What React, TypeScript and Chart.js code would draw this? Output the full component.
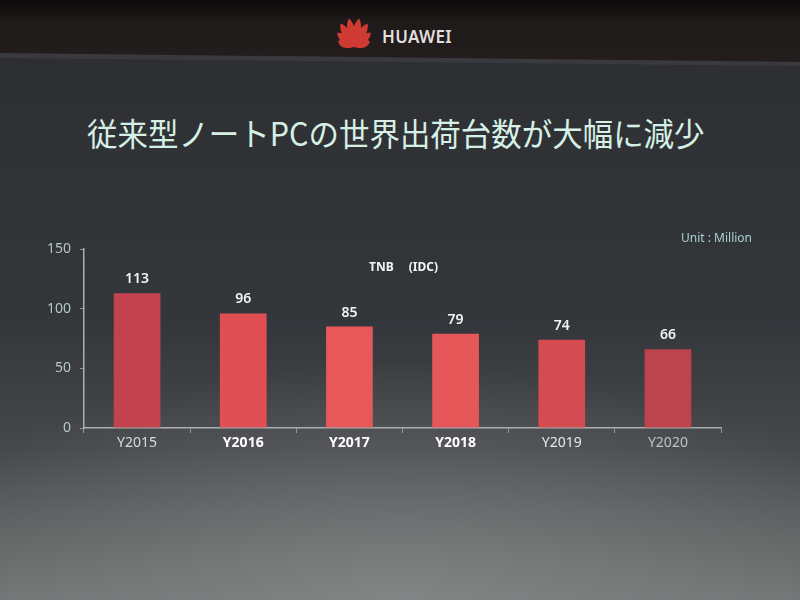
import React, { useEffect, useRef } from "react";
import { Chart, registerables } from "chart.js";

Chart.register(...registerables);

// ---- data ----
const categories = ["Y2015", "Y2016", "Y2017", "Y2018", "Y2019", "Y2020"];
const shipments = [113, 96, 85, 79, 74, 66];
const yTickValues = [0, 50, 100, 150];
const barColors = ["#c2434e", "#e04f54", "#e8585a", "#e6575a", "#d44b52", "#bd434c"];
const xLabelColors = ["#d6dcdc", "#ffffff", "#ffffff", "#ffffff", "#e4eaea", "#b8c4c6"];
const xLabelBold = [false, true, true, true, false, false];
const titleText = "従来型ノートPCの世界出荷台数が大幅に減少";
const seriesLabel = "TNB　 (IDC)";
const unitLabel = "Unit : Million";
const brandName = "HUAWEI";

const petalAngles = [-70, -50, -30, -10, 10, 30, 50, 70];
const petalLengths = [17, 22, 27, 29, 29, 27, 22, 17];

const valueLabelPlugin = {
  id: "valueLabels",
  afterDatasetsDraw(chart: any) {
    const ctx = chart.ctx;
    const meta = chart.getDatasetMeta(0);
    ctx.save();
    ctx.fillStyle = "#f2f4f4";
    ctx.font = "600 14px 'Noto Sans', sans-serif";
    ctx.textAlign = "center";
    ctx.textBaseline = "bottom";
    meta.data.forEach((el: any, i: number) => {
      ctx.fillText(String(shipments[i]), el.x, el.y - 7);
    });
    ctx.restore();
  },
};

function Logo() {
  const cx = 21;
  const cy = 31;
  return (
    <svg width="42" height="33" viewBox="0 0 42 33" style={{ position: "absolute", left: 333, top: 16 }}>
      {petalAngles.map((a, i) => {
        const L = petalLengths[i];
        const w = 5.2;
        const d = `M0,0 C${-w},${-L * 0.35} ${-w},${-L * 0.8} 0,${-L} C${w},${-L * 0.8} ${w},${-L * 0.35} 0,0Z`;
        return <path key={i} d={d} fill="#cf3a33" transform={`translate(${cx},${cy}) rotate(${a})`} />;
      })}
    </svg>
  );
}

export default function App() {
  const canvasRef = useRef<HTMLCanvasElement | null>(null);

  useEffect(() => {
    if (!canvasRef.current) return;
    const chart = new Chart(canvasRef.current, {
      type: "bar",
      data: {
        labels: categories,
        datasets: [
          {
            label: seriesLabel,
            data: shipments,
            backgroundColor: barColors,
            borderWidth: 0,
            barPercentage: 0.44,
            categoryPercentage: 1,
          },
        ],
      },
      options: {
        responsive: false,
        animation: false,
        layout: { padding: { left: 0, right: 79, top: 249, bottom: 142 } },
        plugins: { legend: { display: false }, tooltip: { enabled: false } },
        scales: {
          x: {
            grid: {
              display: true,
              drawOnChartArea: false,
              drawTicks: true,
              tickLength: 5,
              color: "#8e9898",
              offset: true,
            },
            border: { display: true, color: "#a8b0b0", width: 1.5 },
            ticks: {
              color: (c: any) => xLabelColors[c.index] || "#ffffff",
              font: (c: any) => ({
                family: "'Noto Sans', sans-serif",
                size: 14,
                weight: xLabelBold[c.index] ? "bold" : "normal",
              }),
              padding: 2,
            },
            afterFit: (s: any) => {
              s.height = 30;
            },
          },
          y: {
            min: 0,
            max: 150,
            grid: { display: true, drawOnChartArea: false, drawTicks: true, tickLength: 4, color: "#8e9898" },
            border: { display: true, color: "#a8b0b0", width: 1.5 },
            ticks: {
              color: "#b6c8c6",
              font: { family: "'Noto Sans', sans-serif", size: 14 },
              padding: 9,
            },
            afterBuildTicks: (s: any) => {
              s.ticks = yTickValues.map((v) => ({ value: v }));
            },
            afterFit: (s: any) => {
              s.width = 84;
            },
          },
        },
      },
      plugins: [valueLabelPlugin],
    } as any);
    return () => chart.destroy();
  }, []);

  return (
    <div
      style={{
        position: "fixed",
        left: 0,
        top: 0,
        width: 800,
        height: 600,
        overflow: "hidden",
        background:
          "radial-gradient(ellipse 520px 240px at 400px 600px, rgba(150,150,150,0.5), rgba(150,150,150,0) 100%), linear-gradient(180deg, #2a2c30 0px, #2f3135 120px, #33363a 320px, #46484c 450px, #666869 560px, #707274 600px)",
        fontFamily: "'Noto Sans', sans-serif",
      }}
    >
      {/* header band */}
      <div
        style={{
          position: "absolute",
          left: 0,
          top: 0,
          width: 800,
          height: 66,
          background: "linear-gradient(180deg, #3a3a3e 0px, #3a3a3e 66px)",
          clipPath: "polygon(0 0, 100% 0, 100% 66px, 0 58px)",
        }}
      />
      <div
        style={{
          position: "absolute",
          left: 0,
          top: 0,
          width: 800,
          height: 64,
          background: "linear-gradient(180deg, #0c0a0a 0px, #151111 10px, #1f1a1a 20px, #231d1d 60px)",
          clipPath: "polygon(0 0, 100% 0, 100% 62px, 0 53px)",
        }}
      />
      <Logo />
      <div
        style={{
          position: "absolute",
          left: 382,
          top: 27,
          fontSize: 17,
          fontWeight: 600,
          color: "#e2dede",
          letterSpacing: 0.3,
          lineHeight: "20px",
        }}
      >
        {brandName}
      </div>
      {/* title */}
      <div
        style={{
          position: "absolute",
          left: 87,
          top: 110,
          fontSize: 32,
          lineHeight: "44px",
          color: "#d6f0e6",
          fontFamily: "'Noto Sans CJK JP', sans-serif",
          whiteSpace: "nowrap",
          transform: "scaleX(0.952)",
          transformOrigin: "0 0",
        }}
      >
        {titleText}
      </div>
      <canvas ref={canvasRef} width={800} height={600} style={{ position: "absolute", left: 0, top: 0 }} />
      <div
        style={{
          position: "absolute",
          left: 369,
          top: 259,
          fontSize: 12,
          fontWeight: 700,
          color: "#f4f6f6",
          whiteSpace: "pre",
          lineHeight: "16px",
        }}
      >
        {seriesLabel}
      </div>
      <div
        style={{
          position: "absolute",
          left: 681,
          top: 230,
          fontSize: 12,
          color: "#a9cfcf",
          whiteSpace: "pre",
          lineHeight: "16px",
        }}
      >
        {unitLabel}
      </div>
    </div>
  );
}
